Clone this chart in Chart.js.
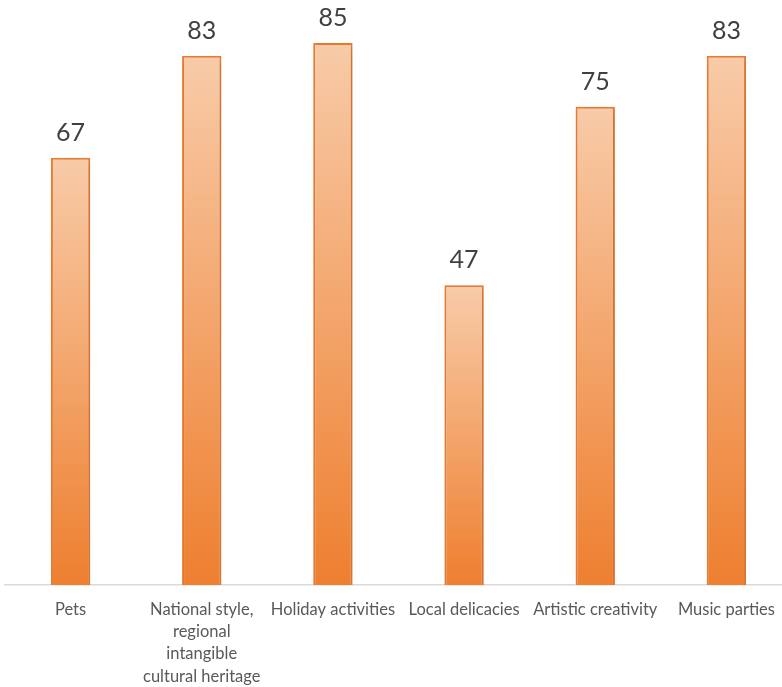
<!DOCTYPE html>
<html>
<head>
<meta charset="utf-8">
<script src="https://cdn.jsdelivr.net/npm/chart.js@4.4.0/dist/chart.umd.min.js"></script>
<style>
  html, body { margin: 0; padding: 0; background: #fff; overflow: hidden; }
  .chart-container { position: relative; width: 800px; height: 687px; }
</style>
</head>
<body>
<div class="chart-container">
  <canvas id="interestChart"></canvas>
</div>
<script>
const categories = [
  'Pets',
  ['National style,', 'regional', 'intangible', 'cultural heritage'],
  'Holiday activities',
  'Local delicacies',
  'Artistic creativity',
  'Music parties'
];
const values = [67, 83, 85, 47, 75, 83];

// gradient from light peach (top) to orange (bottom) for each bar
function barGradient(context) {
  const chart = context.chart;
  const yScale = chart.scales.y;
  if (!chart.chartArea || !yScale || context.type !== 'data') return '#ee7f2f';
  const top = yScale.getPixelForValue(context.raw);
  const bottom = yScale.getPixelForValue(0);
  if (!isFinite(top) || !isFinite(bottom)) return '#ee7f2f';
  const g = chart.ctx.createLinearGradient(0, top, 0, bottom);
  g.addColorStop(0, '#f8cba8');
  g.addColorStop(1, '#ee7f2f');
  return g;
}

const valueLabels = {
  id: 'valueLabels',
  afterDatasetsDraw(chart) {
    const ctx = chart.ctx;
    const meta = chart.getDatasetMeta(0);
    ctx.save();
    ctx.font = '25px Lato';
    ctx.fillStyle = '#404040';
    ctx.textAlign = 'center';
    ctx.textBaseline = 'alphabetic';
    meta.data.forEach((bar, i) => {
      ctx.fillText(values[i], bar.x, bar.y - 17);
    });
    ctx.restore();
  }
};

const barShadow = {
  id: 'barShadow',
  beforeDatasetsDraw(chart) {
    chart.ctx.save();
    chart.ctx.shadowColor = 'rgba(0,0,0,0.15)';
    chart.ctx.shadowBlur = 8;
    chart.ctx.shadowOffsetX = 2;
    chart.ctx.shadowOffsetY = 2;
  },
  afterDatasetsDraw(chart) {
    chart.ctx.restore();
  }
};

new Chart(document.getElementById('interestChart').getContext('2d'), {
  type: 'bar',
  data: {
    labels: categories,
    datasets: [{
      data: values,
      backgroundColor: barGradient,
      borderColor: '#ed7d31',
      borderWidth: 2,
      barPercentage: 0.3,
      categoryPercentage: 1.0
    }]
  },
  options: {
    responsive: true,
    maintainAspectRatio: false,
    animation: false,
    layout: { padding: { left: 5, right: 8, top: 11, bottom: 0 } },
    plugins: {
      legend: { display: false },
      tooltip: { enabled: false }
    },
    scales: {
      x: {
        grid: { display: false },
        border: { display: true, color: '#d9d9d9', width: 1.5 },
        ticks: {
          color: '#595959',
          font: { family: 'Lato', size: 16.5, lineHeight: 1.36 },
          padding: 5,
          maxRotation: 0,
          autoSkip: false
        },
        afterFit(scale) { scale.height = 102; }
      },
      y: {
        display: false,
        min: 0,
        max: 90
      }
    }
  },
  plugins: [barShadow, valueLabels]
});
</script>
</body>
</html>
